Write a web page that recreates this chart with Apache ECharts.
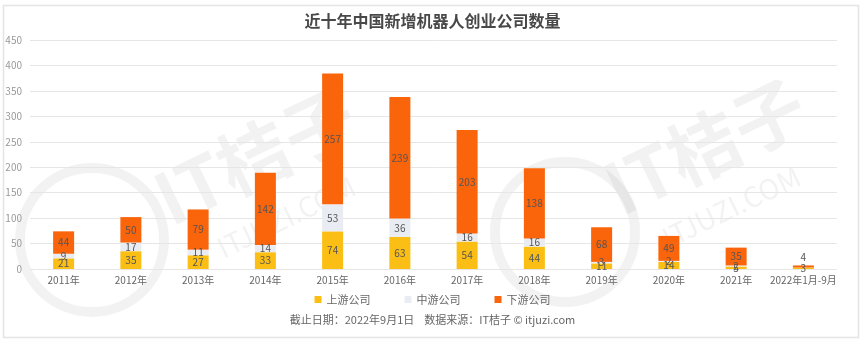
<!DOCTYPE html>
<html>
<head>
<meta charset="utf-8">
<script src="https://cdn.jsdelivr.net/npm/echarts@6/dist/echarts.min.js"></script>
<style>html,body{margin:0;padding:0;background:#fff;}#c{width:865px;height:342px;}</style>
</head>
<body>
<div id="c"></div>
<script>
var categories = ['2011年','2012年','2013年','2014年','2015年','2016年','2017年','2018年','2019年','2020年','2021年','2022年1月-9月'];
var upstream = [21,35,27,33,74,63,54,44,11,14,5,3];
var midstream = [9,17,11,14,53,36,16,16,3,2,2,0];
var downstream = [44,50,79,142,257,239,203,138,68,49,35,4];
var yTicks = {min:0, max:450, interval:50};

var font = '"Noto Sans CJK SC","Noto Sans",sans-serif';
var chart = echarts.init(document.getElementById('c'));
function lbl(color){
  return {show:true, position:'inside', fontSize:10, color:color, fontFamily:font,
    formatter:function(p){return p.value===0?'':p.value;}};
}
var downData = downstream.map(function(v,i){
  return i===downstream.length-1 ? {value:v, label:{position:'top', distance:3}} : v;
});
var wm = 'rgba(0,0,0,0.05)';
chart.setOption({
  animation:false,
  textStyle:{fontFamily:font},
  title:{text:'近十年中国新增机器人创业公司数量', left:'center', top:8,
    textStyle:{fontSize:16, fontWeight:'bold', color:'#484848', fontFamily:font}},
  grid:{left:30, right:28, top:40, bottom:73},
  legend:{top:289, left:'center', itemWidth:7, itemHeight:7, itemGap:34, icon:'rect',
    textStyle:{fontSize:11, color:'#666', fontFamily:font},
    data:['上游公司','中游公司','下游公司']},
  xAxis:{type:'category', data:categories,
    axisLine:{show:false}, axisTick:{show:false},
    axisLabel:{fontSize:10, color:'#666', margin:6, interval:0}},
  yAxis:{type:'value', min:yTicks.min, max:yTicks.max, interval:yTicks.interval,
    axisLine:{show:false}, axisTick:{show:false},
    axisLabel:{fontSize:10, color:'#999', margin:8},
    splitLine:{lineStyle:{color:'#e6e6e6'}}},
  series:[
    {name:'上游公司', type:'bar', stack:'a', barWidth:21, data:upstream,
      itemStyle:{color:'#FBBE14'}, label:lbl('#555')},
    {name:'中游公司', type:'bar', stack:'a', data:midstream,
      itemStyle:{color:'#E9EDF3'}, label:lbl('#555')},
    {name:'下游公司', type:'bar', stack:'a', data:downData,
      itemStyle:{color:'#FA640A'}, label:lbl('#555')}
  ],
  graphic:[
    {type:'rect', shape:{x:3.5, y:5.5, width:855, height:332}, silent:true, z:-10,
      style:{fill:'none', stroke:'#e4e4e4', lineWidth:1.5}},
    {type:'text', left:'center', top:314, silent:true,
      style:{text:'截止日期：2022年9月1日    数据来源：IT桔子 © itjuzi.com', fontSize:11, fill:'#666', fontFamily:font}},
    {type:'circle', shape:{cx:92, cy:240, r:72}, silent:true, z:-5,
      style:{fill:'none', stroke:wm, lineWidth:10}},
    {type:'text', x:175, y:235, rotation:Math.PI/7, silent:true, z:-5,
      style:{text:'IT桔子', fontSize:72, fontWeight:'bold', fill:wm, fontFamily:font, textVerticalAlign:'bottom'}},
    {type:'text', x:225, y:262, rotation:Math.PI/7, silent:true, z:-5,
      style:{text:'ITJUZI.COM', fontSize:28, fill:wm, fontFamily:font, textVerticalAlign:'bottom'}},
    {type:'circle', shape:{cx:565, cy:232, r:70}, silent:true, z:-5,
      style:{fill:'none', stroke:wm, lineWidth:10}},
    {type:'text', x:625, y:225, rotation:Math.PI/7, silent:true, z:-5,
      style:{text:'IT桔子', fontSize:72, fontWeight:'bold', fill:wm, fontFamily:font, textVerticalAlign:'bottom'}},
    {type:'text', x:670, y:252, rotation:Math.PI/7, silent:true, z:-5,
      style:{text:'ITJUZI.COM', fontSize:28, fill:wm, fontFamily:font, textVerticalAlign:'bottom'}}
  ]
});
</script>
</body>
</html>
